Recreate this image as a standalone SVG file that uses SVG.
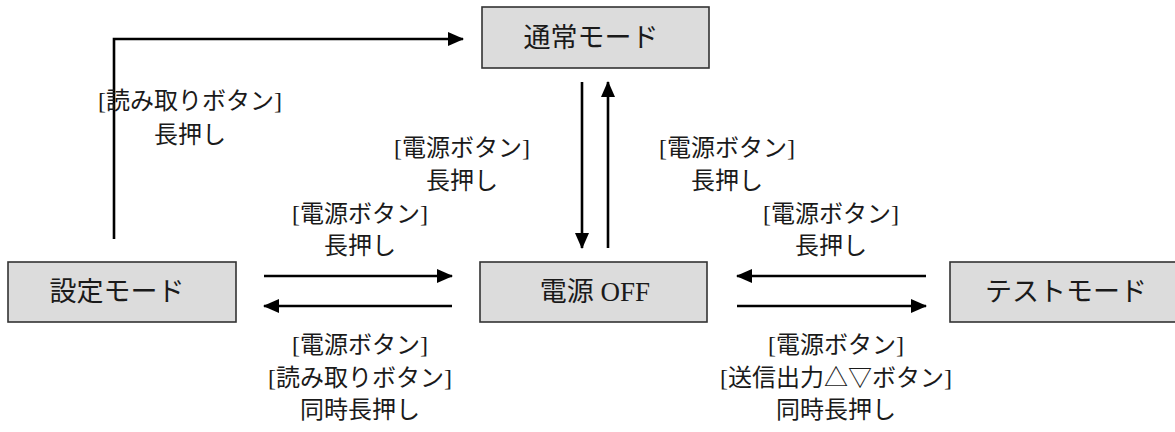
<svg xmlns="http://www.w3.org/2000/svg" width="1175" height="432" viewBox="0 0 1175 432">
<style>
.box{fill:#dcdcdc;stroke:#333;stroke-width:1.6}
.nt{font-family:"Liberation Serif","Noto Sans CJK JP",serif;font-size:27px;fill:#1a1a1a;text-anchor:middle;dominant-baseline:central}
.lb{font-family:"Liberation Serif","Noto Sans CJK JP",serif;font-size:24px;fill:#1a1a1a;text-anchor:middle;dominant-baseline:central}
.ln{fill:none;stroke:#000;stroke-width:2.6;marker-end:url(#ah)}
</style>
<defs>
<marker id="ah" viewBox="0 0 16 14" refX="15" refY="7" markerWidth="16" markerHeight="14" markerUnits="userSpaceOnUse" orient="auto">
<path d="M0,0 L16,7 L0,14 Z" fill="#000"/>
</marker>
</defs>
<rect width="1175" height="432" fill="#fff"/>
<g id="node-normal">
<rect class="box" x="482" y="7" width="227" height="61"/>
<text class="nt" x="591" y="38">通常モード</text>
</g>
<g id="node-setting">
<rect class="box" x="8" y="262" width="228" height="60"/>
<text class="nt" x="117" y="292">設定モード</text>
</g>
<g id="node-off">
<rect class="box" x="480" y="262" width="227" height="60"/>
<text class="nt" x="595" y="292">電源 OFF</text>
</g>
<g id="node-test">
<rect class="box" x="950" y="262" width="228" height="60"/>
<text class="nt" x="1066" y="292">テストモード</text>
</g>
<g id="connectors">
<path class="ln" d="M114,239 V39 H463"/>
<path class="ln" d="M582,82 V248"/>
<path class="ln" d="M608,248 V82"/>
<path class="ln" d="M264,276 H452"/>
<path class="ln" d="M452,306 H264"/>
<path class="ln" d="M926,276 H737"/>
<path class="ln" d="M737,306 H926"/>
</g>
<g id="labels">
<text class="lb" x="190" y="101">[読み取りボタン]</text>
<text class="lb" x="190" y="135">長押し</text>
<text class="lb" x="462" y="148">[電源ボタン]</text>
<text class="lb" x="462" y="181">長押し</text>
<text class="lb" x="727" y="148">[電源ボタン]</text>
<text class="lb" x="727" y="181">長押し</text>
<text class="lb" x="360" y="214">[電源ボタン]</text>
<text class="lb" x="360" y="246">長押し</text>
<text class="lb" x="831" y="214">[電源ボタン]</text>
<text class="lb" x="831" y="246">長押し</text>
<text class="lb" x="360" y="345">[電源ボタン]</text>
<text class="lb" x="360" y="378">[読み取りボタン]</text>
<text class="lb" x="360" y="410">同時長押し</text>
<text class="lb" x="836" y="345">[電源ボタン]</text>
<text class="lb" x="836" y="378">[送信出力△▽ボタン]</text>
<text class="lb" x="836" y="410">同時長押し</text>
</g>
</svg>
